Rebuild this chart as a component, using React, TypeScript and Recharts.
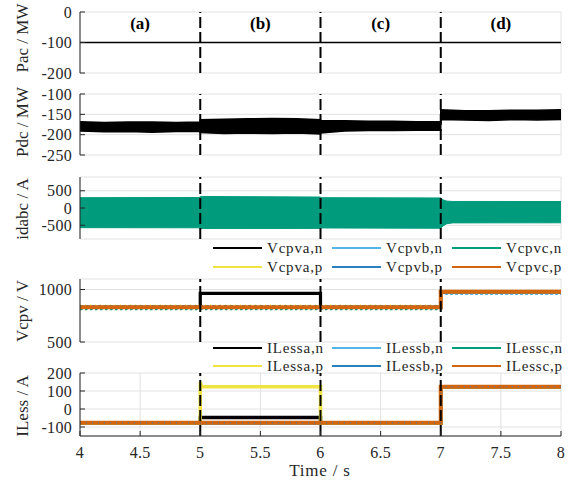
import React from 'react';
import {
  ComposedChart,
  Line,
  Area,
  XAxis,
  YAxis,
  CartesianGrid,
  ReferenceLine,
  ReferenceArea,
} from 'recharts';

const FONT = 'Liberation Serif, Tinos, DejaVu Serif, serif';
const AX = '#262626';
const GRID = '#e2e2e2';

// ---------- shared axis data ----------
const timeTicks = [4, 4.5, 5, 5.5, 6, 6.5, 7, 7.5, 8];
const switchTimes = [5, 6, 7];
const stageLabels = ['(a)', '(b)', '(c)', '(d)'];
const stageStart = [4, 5, 6, 7];
const stageEnd = [5, 6, 7, 8];

// ---------- Pac ----------
const pacTime = [4, 8];
const pacValue = [-100, -100];
const pacTicks = [-200, -100, 0];

// ---------- Pdc (envelope of the oscillating trace) ----------
const pdcTime = [4.0, 4.2, 4.4, 4.6, 4.8, 5.0, 5.0, 5.2, 5.4, 5.6, 5.8, 6.0, 6.0, 6.2, 6.4, 6.6, 6.8, 7.0, 7.0, 7.2, 7.4, 7.6, 7.8, 8.0];
const pdcLow = [-191, -193, -192, -194, -192, -192, -195, -197, -196, -197, -196, -198, -196, -191, -190, -190, -189, -189, -163, -164, -165, -163, -164, -163];
const pdcHigh = [-168, -170, -169, -169, -170, -169, -163, -162, -161, -160, -161, -163, -165, -166, -167, -167, -168, -168, -139, -141, -141, -140, -140, -139];
const pdcTicks = [-250, -200, -150, -100];

// ---------- idabc (envelope) ----------
const idTime = [4.0, 5.0, 5.0, 6.0, 6.0, 7.0, 7.02, 7.05, 7.1, 8.0];
const idLow = [-571, -575, -595, -592, -580, -588, -520, -455, -432, -430];
const idHigh = [300, 305, 335, 318, 300, 292, 235, 200, 190, 188];
const idTicks = [-500, 0, 500];

// ---------- Vcpv ----------
const vcpvNames = ['Vcpva,n', 'Vcpvb,n', 'Vcpvc,n', 'Vcpva,p', 'Vcpvb,p', 'Vcpvc,p'];
const seriesColors = ['#000000', '#56b4e9', '#009e7a', '#f0e442', '#2b80c0', '#d2650e'];
const stepTime = [4, 5, 5, 6, 6, 7, 7, 8];
const vcpvAn = [830, 830, 963, 963, 830, 830, 978, 978];
const vcpvBn = [820, 820, 820, 820, 820, 820, 962, 962];
const vcpvCn = [812, 812, 812, 812, 812, 812, 970, 970];
const vcpvAp = [848, 848, 848, 848, 848, 848, 990, 990];
const vcpvBp = [843, 843, 843, 843, 843, 843, 986, 986];
const vcpvCp = [831, 831, 831, 831, 831, 831, 978, 978];
const vcpvTicks = [500, 1000];

// ---------- ILess ----------
const ilessNames = ['ILessa,n', 'ILessb,n', 'ILessc,n', 'ILessa,p', 'ILessb,p', 'ILessc,p'];
const ilessAn = [-78, -78, -47, -47, -78, -78, 123, 123];
const ilessBn = [-78, -78, -78, -78, -78, -78, 123, 123];
const ilessCn = [-78, -78, -78, -78, -78, -78, 123, 123];
const ilessApTime = [4, 5, 5, 5.01, 6, 6, 7, 7, 8];
const ilessAp = [-78, -78, 150, 123, 123, -78, -78, 123, 123];
const ilessBp = [-77, -77, -77, -77, -77, -77, 124, 124];
const ilessCp = [-77, -77, -77, -77, -77, -77, 123, 123];
const ilessTicks = [-100, 0, 100, 200];

// ---------- build tables ----------
const pacData = pacTime.map((t, i) => ({ t, v: pacValue[i] }));
const pdcData = pdcTime.map((t, i) => ({ t, band: [pdcLow[i], pdcHigh[i]] }));
const idData = idTime.map((t, i) => ({ t, band: [idLow[i], idHigh[i]] }));
const toSeries = (times: number[], vals: number[]) => times.map((t, i) => ({ t, v: vals[i] }));

const vcpvSeries = [
  { data: toSeries(stepTime, vcpvAn), width: 3.2, dash: undefined as string | undefined },
  { data: toSeries(stepTime, vcpvBn), width: 3, dash: '3 2' },
  { data: toSeries(stepTime, vcpvCn), width: 2, dash: '2 3' },
  { data: toSeries(stepTime, vcpvAp), width: 2, dash: '1 4' },
  { data: toSeries(stepTime, vcpvBp), width: 2, dash: '3 3' },
  { data: toSeries(stepTime, vcpvCp), width: 4, dash: undefined },
];
const ilessSeries = [
  { data: toSeries(stepTime, ilessAn), width: 3.5, dash: undefined as string | undefined, colorIndex: 0 },
  { data: toSeries(stepTime, ilessBn), width: 3, dash: undefined, colorIndex: 1 },
  { data: toSeries(stepTime, ilessCn), width: 3, dash: undefined, colorIndex: 2 },
  { data: toSeries(ilessApTime, ilessAp), width: 3.5, dash: undefined, colorIndex: 3 },
  { data: toSeries(stepTime, ilessBp), width: 3, dash: undefined, colorIndex: 4 },
  { data: toSeries(stepTime, ilessCp), width: 4, dash: undefined, colorIndex: 5 },
  { data: toSeries(stepTime, ilessBp), width: 1, dash: '1 5', colorIndex: 4 },
];

const W = 569;
const MARGIN = { top: 10, right: 8, bottom: 10, left: 0 };

function YTick(props: any) {
  const { x, y, payload } = props;
  return (
    <text x={x} y={y} textAnchor="end" dominantBaseline="central" fontSize={16} fill={AX} fontFamily={FONT} letterSpacing={0.3}>
      {payload.value}
    </text>
  );
}
function XTick(props: any) {
  const { x, y, payload } = props;
  return (
    <text x={x} y={y} textAnchor="middle" dy="0.71em" fontSize={16} fill={AX} fontFamily={FONT} letterSpacing={0.3}>
      {payload.value}
    </text>
  );
}

function axes(domain: number[], ticks: number[], showX: boolean) {
  return [
    <CartesianGrid key="g" stroke={GRID} strokeWidth={1} />,
    <XAxis
      key="xb"
      dataKey="t"
      type="number"
      domain={[4, 8]}
      ticks={timeTicks}
      height={showX ? 40 : 0}
      tick={showX ? <XTick /> : false}
      tickSize={-5}
      tickMargin={16}
      tickLine={{ stroke: AX }}
      axisLine={{ stroke: AX }}
      interval={0}
    />,
    <XAxis
      key="xt"
      xAxisId="top"
      orientation="top"
      type="number"
      domain={[4, 8]}
      ticks={timeTicks}
      height={0}
      tick={false}
      tickSize={-5}
      tickLine={{ stroke: AX }}
      axisLine={{ stroke: '#555' }}
    />,
    <YAxis
      key="yl"
      type="number"
      domain={domain}
      ticks={ticks}
      width={80}
      tick={<YTick />}
      tickSize={-5}
      tickMargin={13}
      tickLine={{ stroke: AX }}
      axisLine={{ stroke: AX }}
      allowDataOverflow
      interval={0}
    />,
    <YAxis
      key="yr"
      yAxisId="r"
      orientation="right"
      type="number"
      domain={domain}
      ticks={ticks}
      width={0}
      tick={false}
      tickSize={-5}
      tickLine={{ stroke: AX }}
      axisLine={{ stroke: '#555' }}
    />,
  ];
}

function switches() {
  return switchTimes.map((x) => (
    <ReferenceLine key={'s' + x} x={x} stroke="#000" strokeWidth={2} strokeDasharray="11 4" />
  ));
}

function place(plotTop: number, plotBottom: number, showX: boolean) {
  const h = plotBottom - plotTop + MARGIN.top + MARGIN.bottom + (showX ? 40 : 0);
  return { top: plotTop - MARGIN.top, height: h };
}

const P1 = place(12, 73, false);
const P2 = place(94, 155, false);
const P3 = place(177, 239, false);
const P4 = place(279, 342, false);
const P5 = place(373, 436, true);

const yTitles = [
  { text: 'Pac / MW', y: 38 },
  { text: 'Pdc / MW', y: 122 },
  { text: 'idabc / A', y: 209 },
  { text: 'Vcpv / V', y: 311 },
  { text: 'ILess / A', y: 406 },
];
const legendCols = [213, 332, 452];
const legendRowsV = [248, 267];
const legendRowsI = [348, 366];

function Legend({ names, rows }: { names: string[]; rows: number[] }) {
  return (
    <g>
      {names.map((n, i) => {
        const x = legendCols[i % 3];
        const y = rows[Math.floor(i / 3)];
        return (
          <g key={n}>
            <line x1={x} x2={x + 49} y1={y} y2={y} stroke={seriesColors[i]} strokeWidth={2} />
            <text x={x + 54} y={y} dominantBaseline="central" fontSize={15} letterSpacing={0.8} fill={AX} fontFamily={FONT}>
              {n}
            </text>
          </g>
        );
      })}
    </g>
  );
}

export default function App() {
  const box = (p: { top: number; height: number }): React.CSSProperties => ({
    position: 'absolute',
    left: 0,
    top: p.top,
    width: W,
    height: p.height,
  });
  return (
    <div style={{ position: 'absolute', left: 0, top: 0, width: W, height: 481, background: '#fff', fontFamily: FONT }}>
      <div style={box(P1)}>
        <ComposedChart width={W} height={P1.height} margin={MARGIN} data={pacData}>
          {axes([-200, 0], pacTicks, false)}
          {stageLabels.map((s, i) => (
            <ReferenceArea
              key={s}
              x1={stageStart[i]}
              x2={stageEnd[i]}
              fill="none"
              stroke="none"
              label={{ value: s, position: 'insideTop', offset: 5, fontSize: 17, fontWeight: 'bold', fill: '#000', fontFamily: FONT }}
            />
          ))}
          <Line dataKey="v" stroke="#000" strokeWidth={1.6} dot={false} isAnimationActive={false} />
          {switches()}
        </ComposedChart>
      </div>
      <div style={box(P2)}>
        <ComposedChart width={W} height={P2.height} margin={MARGIN} data={pdcData}>
          {axes([-250, -100], pdcTicks, false)}
          <Area dataKey="band" type="linear" stroke="#000" strokeWidth={1.5} fill="#000" fillOpacity={1} dot={false} isAnimationActive={false} />
          {switches()}
        </ComposedChart>
      </div>
      <div style={box(P3)}>
        <ComposedChart width={W} height={P3.height} margin={MARGIN} data={idData}>
          {axes([-900, 900], idTicks, false)}
          <Area dataKey="band" type="linear" stroke="#009b7d" strokeWidth={1} fill="#009b7d" fillOpacity={1} dot={false} isAnimationActive={false} />
          {switches()}
        </ComposedChart>
      </div>
      <div style={box(P4)}>
        <ComposedChart width={W} height={P4.height} margin={MARGIN}>
          {axes([500, 1100], vcpvTicks, false)}
          {vcpvSeries.map((s, i) => (
            <Line
              key={'v' + i}
              data={s.data}
              dataKey="v"
              stroke={seriesColors[i]}
              strokeWidth={s.width}
              strokeDasharray={s.dash}
              dot={false}
              isAnimationActive={false}
            />
          ))}
          {switches()}
        </ComposedChart>
      </div>
      <div style={box(P5)}>
        <ComposedChart width={W} height={P5.height} margin={MARGIN}>
          {axes([-150, 200], ilessTicks, true)}
          {ilessSeries.map((s, i) => (
            <Line
              key={'i' + i}
              data={s.data}
              dataKey="v"
              stroke={seriesColors[s.colorIndex]}
              strokeWidth={s.width}
              strokeDasharray={s.dash}
              dot={false}
              isAnimationActive={false}
            />
          ))}
          {switches()}
        </ComposedChart>
      </div>
      <svg width={W} height={481} style={{ position: 'absolute', left: 0, top: 0, pointerEvents: 'none' }}>
        {yTitles.map((t) => (
          <text
            key={t.text}
            transform={`translate(22,${t.y}) rotate(-90)`}
            textAnchor="middle"
            dominantBaseline="central"
            fontSize={17}
            fill={AX}
            fontFamily={FONT}
          >
            {t.text}
          </text>
        ))}
        <text x={320} y={470} textAnchor="middle" dominantBaseline="central" fontSize={17} letterSpacing={0.8} fill={AX} fontFamily={FONT}>
          Time / s
        </text>
        <Legend names={vcpvNames} rows={legendRowsV} />
        <Legend names={ilessNames} rows={legendRowsI} />
      </svg>
    </div>
  );
}
